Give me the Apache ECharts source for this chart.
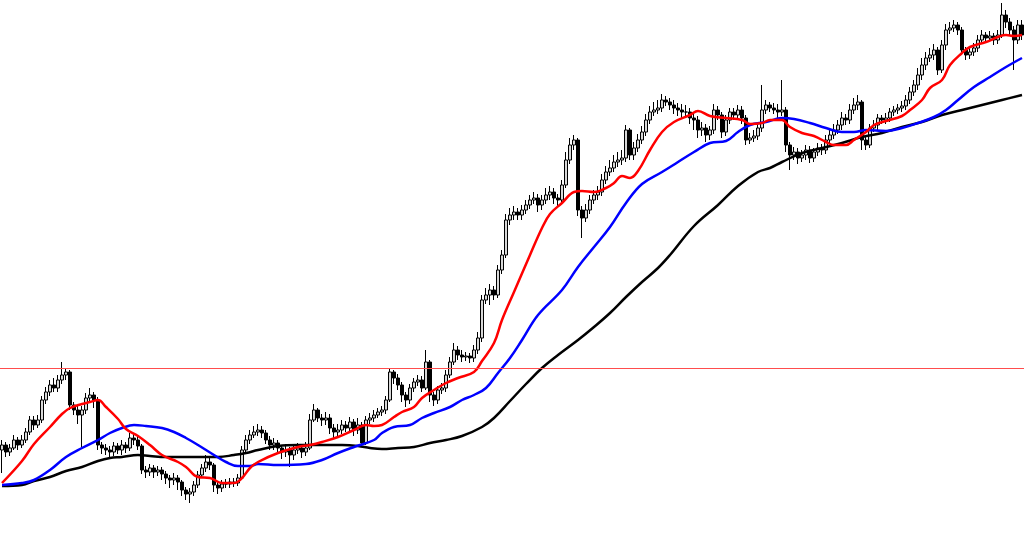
<!DOCTYPE html>
<html>
<head>
<meta charset="utf-8">
<script src="https://cdn.jsdelivr.net/npm/echarts@6/dist/echarts.min.js"></script>
<style>html,body{margin:0;padding:0;background:#fff;}#chart{width:1024px;height:548px;}</style>
</head>
<body>
<div id="chart"></div>
<script>
const opens = [150,155,148,152,160,155,160,168,180,175, 180,200,208,215,212,220,225,228,195,190, 185,190,202,205,200,155,152,150,148,154, 150,155,152,162,160,154,130,128,132,128, 130,126,122,120,122,118,110,106,108,115, 125,132,138,135,115,112,116,116,118,117, 122,150,160,165,168,170,167,160,155,157, 152,148,150,145,150,152,148,152,180,190, 182,180,182,172,168,170,175,172,178,170, 175,157,180,182,185,188,190,200,228,222, 215,205,200,212,218,220,212,238,205,200, 210,212,225,238,250,245,243,244,242,250, 262,300,305,310,305,330,345,380,385,388, 385,390,395,400,402,395,400,405,408,402, 400,415,440,455,460,390,382,390,400,405, 408,420,428,432,438,440,442,470,445,452, 460,468,480,488,490,492,500,498,495,492, 490,488,488,482,480,470,472,465,470,490, 485,468,480,488,485,490,482,460,462,464, 472,490,495,492,490,488,490,455,445,448, 442,445,450,442,448,452,450,460,465,470, 475,482,480,490,495,498,460,455,472,475, 482,480,482,488,490,492,494,500,508,515, 525,535,542,545,550,530,555,570,572,575, 570,550,545,548,552,560,565,562,564,560, 565,585,578,570,560,575];
const closes = [155,148,152,160,155,160,168,180,175,180, 200,208,215,212,220,225,228,195,190,185, 190,202,205,200,155,152,150,148,154,150, 155,152,162,160,154,130,128,132,128,130, 126,122,120,122,118,110,106,108,115,125, 132,138,135,115,112,116,116,118,117,122, 150,160,165,168,170,167,160,155,157,152, 148,150,145,150,152,148,152,180,190,182, 180,182,172,168,170,175,172,178,170,175, 157,180,182,185,188,190,200,228,222,215, 205,200,212,218,220,212,238,205,200,210, 212,225,238,250,245,243,244,242,250,262, 300,305,310,305,330,345,380,385,388,385, 390,395,400,402,395,400,405,408,402,400, 415,440,455,460,390,382,390,400,405,408, 420,428,432,438,440,442,470,445,452,460, 468,480,488,490,492,500,498,495,492,490, 488,488,482,480,470,472,465,470,490,485, 468,480,488,485,490,482,460,462,464,472, 490,495,492,490,488,490,455,445,448,442, 445,450,442,448,452,450,460,465,470,475, 482,480,490,495,498,460,455,472,475,482, 480,482,488,490,492,494,500,508,515,525, 535,542,545,550,530,555,570,572,575,570, 550,545,548,552,560,565,562,564,560,565, 585,578,570,560,575,565];
const lows = [127,143,144,150,150,152,157,165,170,172, 177,196,204,208,208,216,220,190,185,176, 153,186,198,192,150,146,145,142,144,146, 145,147,149,155,150,126,122,124,122,124, 120,116,112,115,110,104,100,97,104,112, 122,128,130,108,106,108,112,112,113,114, 120,146,156,162,164,162,156,150,150,147, 141,143,133,140,146,142,144,150,178,178, 174,175,166,162,164,166,168,168,164,166, 153,155,176,178,182,184,186,198,216,210, 198,193,196,208,214,208,210,198,194,196, 206,208,222,235,240,238,239,237,238,246, 258,296,295,300,302,326,342,375,380,380, 380,386,391,396,388,390,396,400,396,394, 396,412,436,450,384,362,378,386,396,400, 404,416,424,428,433,435,438,440,440,448, 456,464,476,484,486,488,494,490,486,484, 482,482,476,470,462,464,458,460,466,480, 462,464,476,480,481,476,455,456,458,460, 468,486,488,486,482,484,448,430,440,436, 438,440,437,438,444,445,446,456,461,466, 470,475,476,486,490,450,450,452,468,470, 476,476,478,484,486,488,490,496,504,510, 520,530,538,540,525,527,550,566,568,565, 545,540,541,544,548,556,558,558,555,556, 562,572,564,530,556,560];
const highs = [160,158,156,165,163,165,172,184,184,185, 204,213,220,222,225,238,232,230,198,194, 194,207,212,208,203,158,156,154,158,157, 160,158,167,166,164,156,134,136,135,134, 133,129,125,127,125,120,113,112,119,129, 136,145,142,137,118,120,121,122,122,126, 154,165,170,174,176,174,170,164,162,160, 155,156,153,155,157,156,158,186,196,192, 186,188,186,176,176,180,179,183,181,182, 178,184,187,190,192,194,204,232,230,226, 218,208,216,222,225,224,250,240,208,214, 217,230,243,257,254,250,248,247,255,268, 305,312,316,314,335,350,386,392,394,392, 395,400,405,408,406,405,412,414,412,406, 420,448,462,465,462,394,396,405,410,414, 426,434,440,445,448,450,475,472,458,466, 474,486,494,498,500,506,504,502,500,497, 496,495,492,486,484,478,476,474,496,494, 488,485,492,492,495,494,485,467,470,478, 515,500,498,497,496,520,493,458,453,452, 450,455,454,452,457,456,465,470,476,480, 488,486,496,502,505,500,464,476,480,486, 485,487,492,494,496,499,505,513,520,532, 542,548,552,556,553,560,576,578,580,578, 573,553,552,557,565,570,568,569,567,570, 597,590,582,574,580,580];

// moving averages: [bar index, value]
const maFast = [[0,117],[5,139],[8,156],[12,173],[15,186],[17,192],[20,196],[22,198],[24,200],[26,193],[29,181],[31,171],[34,164],[37,155],[40,145],[44,138],[46,133],[49,123],[52,122],[55,117],[58,117],[60,122],[62,132],[64,138],[69,147],[74,153],[77,155],[80,158],[84,163],[88,170],[91,175],[93,174],[95,175],[98,183],[100,188],[103,193],[105,202],[108,210],[111,217],[114,222],[118,228],[120,239],[123,257],[125,280],[128,308],[132,345],[135,372],[137,386],[140,397],[143,408],[145,409],[148,408],[151,412],[153,417],[155,424],[157,422],[159,429],[162,450],[165,468],[168,478],[172,485],[174,489],[177,484],[181,482],[185,480],[187,476],[190,477],[192,480],[195,480],[197,473],[200,467],[203,464],[206,458],[208,455],[211,455],[213,460],[216,468],[218,475],[221,479],[225,484],[227,490],[230,500],[232,512],[235,520],[237,535],[240,547],[242,553],[246,558],[249,563],[251,565],[253,564],[255,565]];
const maMid = [[0,115],[5,117],[8,120],[12,130],[16,143],[20,152],[24,160],[27,167],[30,172],[33,175],[36,174],[40,172],[43,168],[46,162],[49,155],[53,145],[56,138],[59,134],[62,134],[64,136],[69,135],[76,136],[80,140],[84,147],[88,153],[93,160],[95,167],[98,173],[102,175],[105,182],[108,187],[112,193],[115,200],[118,205],[121,212],[124,227],[127,242],[130,260],[134,285],[140,310],[144,333],[148,353],[152,373],[156,397],[160,416],[165,428],[169,438],[173,448],[177,457],[181,459],[184,468],[187,475],[191,478],[195,482],[198,481],[202,477],[206,472],[210,468],[213,468],[216,470],[221,469],[225,472],[229,477],[233,483],[236,490],[239,500],[243,513],[247,523],[251,533],[255,542]];
const maSlow = [[0,114],[5,115],[8,119],[12,123],[16,129],[20,133],[24,139],[27,142],[30,143],[34,145],[37,144],[41,143],[49,143],[54,143],[58,145],[61,147],[64,150],[69,154],[74,155],[85,155],[89,154],[92,152],[95,151],[99,152],[103,153],[107,157],[111,160],[115,164],[120,173],[123,182],[127,199],[131,216],[135,232],[139,245],[144,260],[148,273],[152,287],[156,303],[160,318],[164,332],[167,345],[173,374],[179,395],[184,414],[189,428],[192,432],[195,438],[200,447],[205,452],[210,457],[215,463],[220,467],[225,473],[230,478],[235,485],[240,490],[245,495],[250,500],[255,505]];
const levelLine = 232;

const bars = closes.map((c, i) => String(i));
const candles = closes.map((c, i) => [opens[i], c, lows[i], highs[i]]);

const chart = echarts.init(document.getElementById('chart'), null, {renderer: 'canvas'});
chart.setOption({
  animation: false,
  backgroundColor: '#ffffff',
  grid: {left: 0, right: 0, top: 0, bottom: 0},
  xAxis: {type: 'category', data: bars, show: false, boundaryGap: true},
  yAxis: {type: 'value', min: 52, max: 600, show: false},
  series: [
    {
      type: 'candlestick', data: candles, barWidth: 3,
      itemStyle: {color: '#d8d8d8', color0: '#000000', borderColor: '#000000', borderColor0: '#000000', borderWidth: 1},
      markLine: {
        silent: true, symbol: ['none', 'none'], label: {show: false},
        lineStyle: {color: '#ff4d4d', width: 1, type: 'solid'},
        data: [{yAxis: levelLine}]
      }
    },
    {type: 'line', data: maSlow, smooth: 0.4, showSymbol: false, lineStyle: {color: '#000000', width: 2.5}},
    {type: 'line', data: maMid, smooth: 0.4, showSymbol: false, lineStyle: {color: '#0000ff', width: 2.5}},
    {type: 'line', data: maFast, smooth: 0.4, showSymbol: false, lineStyle: {color: '#ff0000', width: 2.5}}
  ]
});
</script>
</body>
</html>
